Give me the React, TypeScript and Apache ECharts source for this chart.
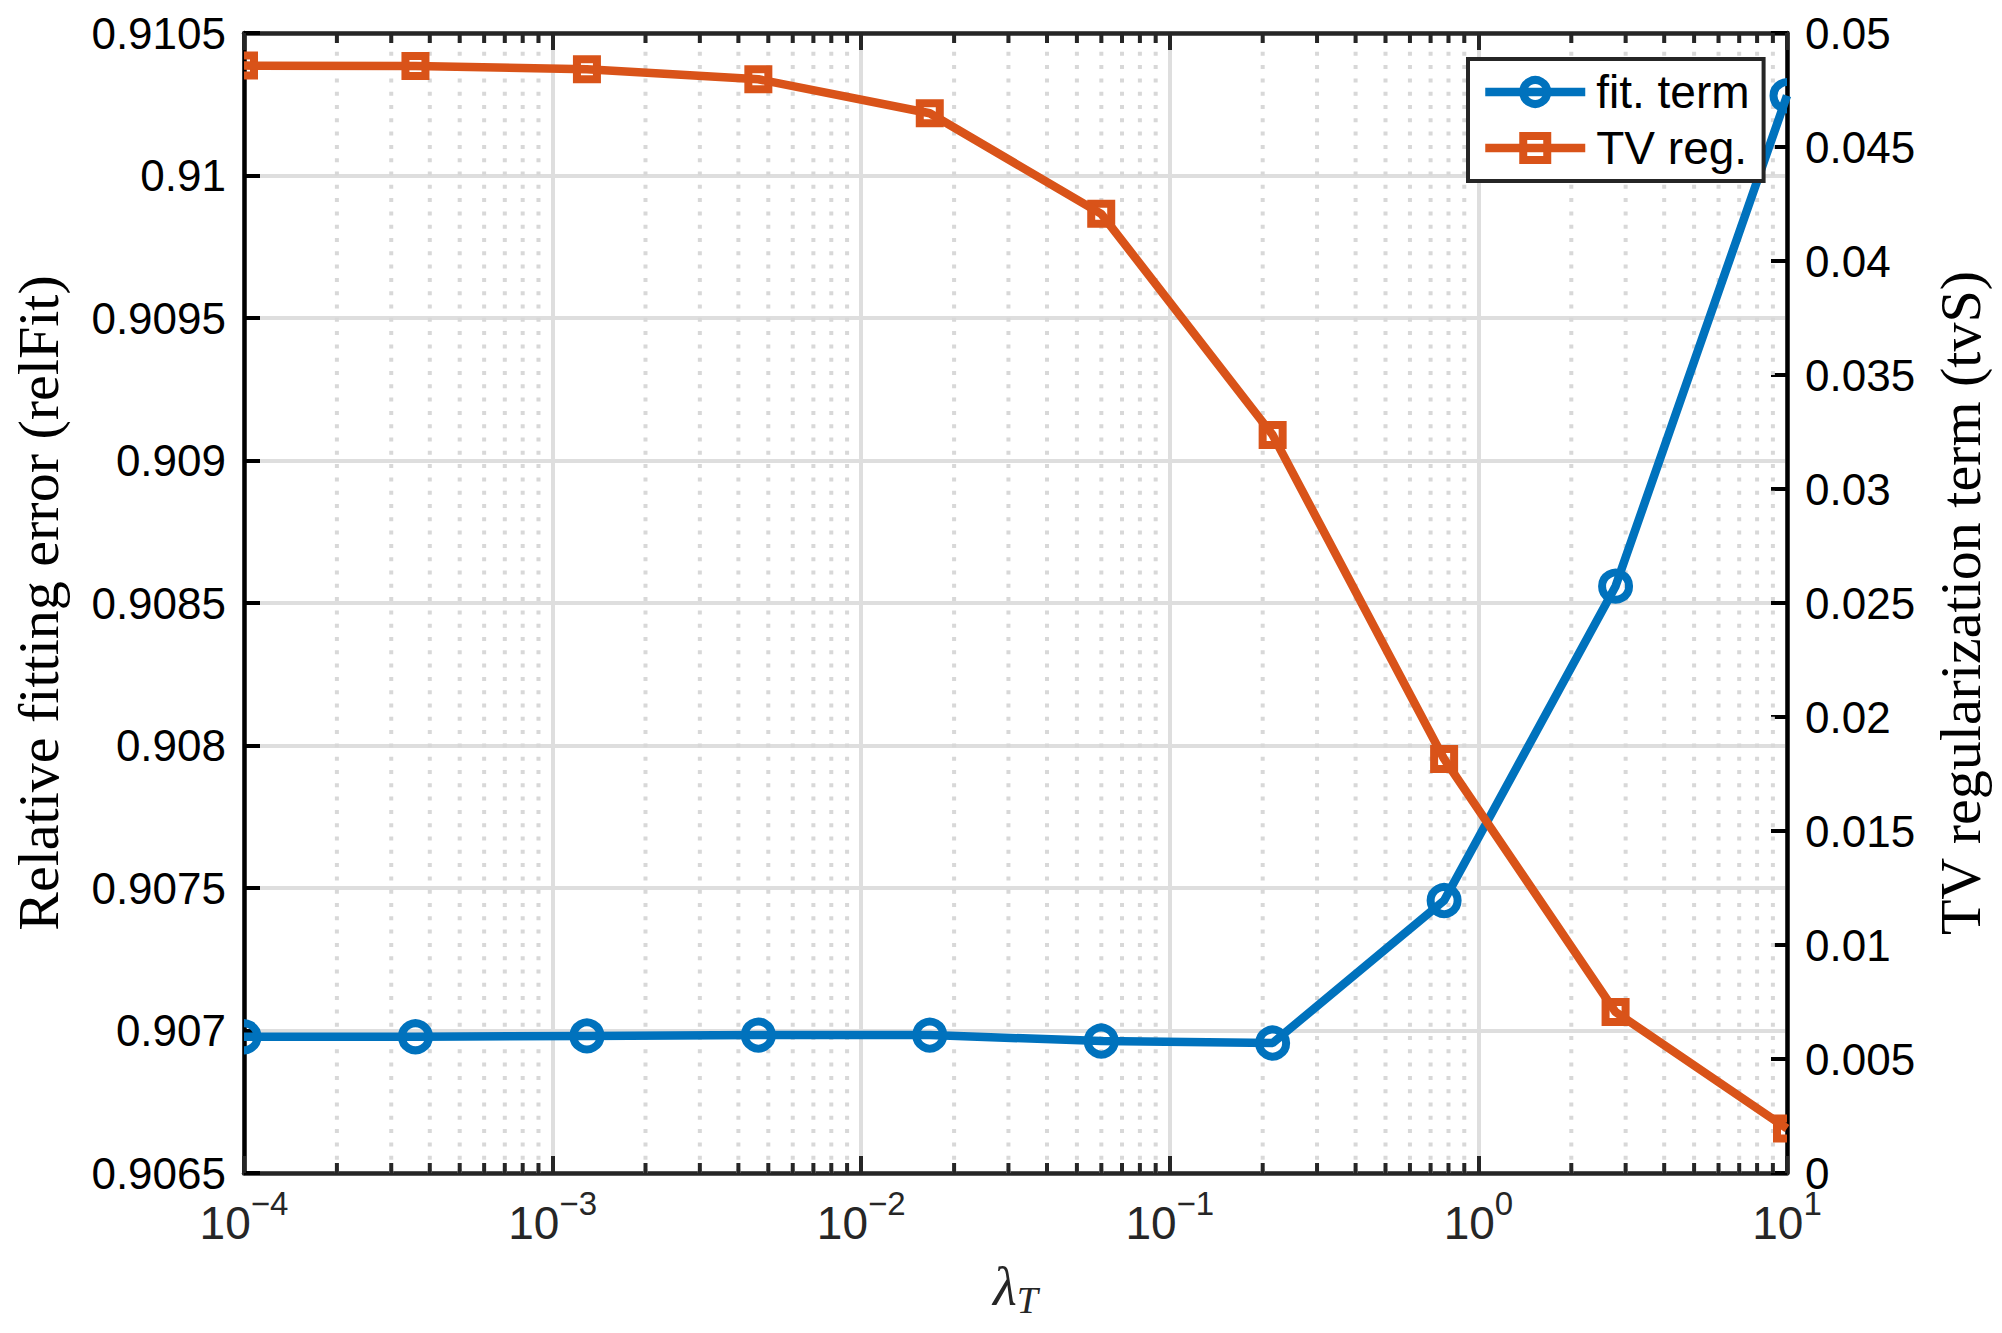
import React, { useEffect, useRef } from "react";
import * as echarts from "echarts";

// ---- data ----
const lambdaT = [1e-4, 3.594e-4, 1.292e-3, 4.642e-3, 1.668e-2, 5.995e-2, 0.2154, 0.7743, 2.783, 10];
const relFit = [0.906978, 0.906978, 0.906981, 0.906984, 0.906984, 0.906963, 0.906956, 0.907456, 0.908559, 0.91028];
const tvS = [0.04857, 0.04855, 0.04841, 0.04797, 0.04648, 0.04207, 0.03237, 0.01816, 0.00706, 0.00195];

// axis ranges / ticks
const xRange = [1e-4, 10];
const relFitRange = [0.9065, 0.9105];
const relFitStep = 0.0005;
const tvRange = [0, 0.05];
const tvStep = 0.005;
const xMinorTicks = [
  2e-4, 3e-4, 4e-4, 5e-4, 6e-4, 7e-4, 8e-4, 9e-4,
  2e-3, 3e-3, 4e-3, 5e-3, 6e-3, 7e-3, 8e-3, 9e-3,
  2e-2, 3e-2, 4e-2, 5e-2, 6e-2, 7e-2, 8e-2, 9e-2,
  2e-1, 3e-1, 4e-1, 5e-1, 6e-1, 7e-1, 8e-1, 9e-1,
  2, 3, 4, 5, 6, 7, 8, 9,
];

const seriesNames = ["fit. term", "TV reg."];
const xTitle = "λ";
const xTitleSub = "T";
const yLeftTitle = "Relative fitting error (relFit)";
const yRightTitle = "TV regularization term (tvS)";

const BLUE = "#0072BD";
const ORANGE = "#D95319";
const AX = "#262626";
const SANS = "'Liberation Sans', Arial, Helvetica, sans-serif";
const SERIF = "'Liberation Serif', 'Times New Roman', serif";

export default function App() {
  const ref = useRef<HTMLDivElement>(null);

  useEffect(() => {
    if (!ref.current) return;
    const chart = echarts.init(ref.current, null, { renderer: "svg" });

    const fitData = lambdaT.map((x, i) => [x, relFit[i]]);
    const tvData = lambdaT.map((x, i) => [x, tvS[i]]);
    const minorData = xMinorTicks.map((x) => [x, relFitRange[0]]);

    const option: any = {
      animation: false,
      backgroundColor: "#ffffff",
      grid: {
        left: 244,
        top: 33,
        width: 1543,
        height: 1140,
        containLabel: false,
        outerBoundsMode: "none",
      },
      legend: {
        data: seriesNames,
        orient: "vertical",
        left: 1468,
        top: 59,
        padding: [10, 14, 10, 13],
        itemGap: 10,
        itemWidth: 100,
        itemHeight: 30,
        backgroundColor: "#ffffff",
        borderColor: AX,
        borderWidth: 4,
        borderRadius: 0,
        selectedMode: false,
        textStyle: {
          fontFamily: SANS,
          fontSize: 46,
          color: "#000",
          lineHeight: 46,
          padding: [0, 0, 0, 6],
        },
        itemStyle: { borderWidth: 8 },
        lineStyle: { width: 8.5 },
      },
      xAxis: [
        {
          type: "log",
          logBase: 10,
          min: xRange[0],
          max: xRange[1],
          position: "bottom",
          name: `{l|${xTitle}}{t|${xTitleSub}}`,
          nameLocation: "middle",
          nameGap: 86,
          nameTextStyle: {
            color: AX,
            rich: {
              l: { fontFamily: SERIF, fontStyle: "italic", fontSize: 55, lineHeight: 55, color: AX },
              t: { fontFamily: SERIF, fontStyle: "italic", fontSize: 38, lineHeight: 38, color: AX, padding: [26, 0, 0, 0] },
            },
          },
          axisLine: { show: true, onZero: false, lineStyle: { color: AX, width: 4.5 } },
          axisTick: { show: true, inside: true, length: 17, lineStyle: { color: AX, width: 4 } },
          axisLabel: {
            show: true,
            margin: 27,
            color: AX,
            formatter: (v: number) => {
              const e = Math.round(Math.log10(v));
              return `{b|10}{s|${e < 0 ? "\u2212" : ""}${Math.abs(e)}}`;
            },
            rich: {
              b: { fontFamily: SANS, fontSize: 46, lineHeight: 46, color: AX, verticalAlign: "bottom" },
              s: { fontFamily: SANS, fontSize: 33, lineHeight: 33, color: AX, verticalAlign: "bottom", padding: [0, 0, 26, 0] },
            },
          },
          splitLine: { show: true, lineStyle: { color: "#dedede", width: 4 } },
          minorTick: { show: false },
          minorSplitLine: { show: false },
        },
        {
          type: "log",
          logBase: 10,
          min: xRange[0],
          max: xRange[1],
          position: "top",
          axisLine: { show: true, onZero: false, lineStyle: { color: AX, width: 4.5 } },
          axisTick: { show: true, inside: true, length: 17, lineStyle: { color: AX, width: 4 } },
          axisLabel: { show: false },
          splitLine: { show: false },
        },
      ],
      yAxis: [
        {
          type: "value",
          position: "left",
          min: relFitRange[0],
          max: relFitRange[1],
          interval: relFitStep,
          name: yLeftTitle,
          nameLocation: "middle",
          nameRotate: 90,
          nameGap: 177,
          nameTextStyle: { fontFamily: SERIF, fontSize: 58, color: "#000" },
          axisLine: { show: true, onZero: false, lineStyle: { color: "#000", width: 4.5 } },
          axisTick: { show: true, inside: true, length: 16, lineStyle: { color: "#000", width: 4 } },
          axisLabel: {
            margin: 18,
            fontFamily: SANS,
            fontSize: 44,
            lineHeight: 38,
            color: "#000",
            formatter: (v: number) => String(Number(v.toFixed(4))),
          },
          splitLine: { show: true, lineStyle: { color: "#dedede", width: 4 } },
        },
        {
          type: "value",
          position: "right",
          min: tvRange[0],
          max: tvRange[1],
          interval: tvStep,
          name: yRightTitle,
          nameLocation: "middle",
          nameRotate: 90,
          nameGap: 144,
          nameTextStyle: { fontFamily: SERIF, fontSize: 58, color: "#000" },
          axisLine: { show: true, onZero: false, lineStyle: { color: "#000", width: 4.5 } },
          axisTick: { show: true, inside: true, length: 16, lineStyle: { color: "#000", width: 4 } },
          axisLabel: {
            margin: 18,
            fontFamily: SANS,
            fontSize: 44,
            lineHeight: 38,
            color: "#000",
            formatter: (v: number) => String(Number(v.toFixed(3))),
          },
          splitLine: { show: false },
        },
      ],
      series: [
        {
          name: "minor",
          type: "custom",
          xAxisIndex: 0,
          yAxisIndex: 0,
          silent: true,
          z: 1,
          data: minorData,
          encode: { x: 0, y: 1 },
          renderItem: (params: any, api: any) => {
            const v = api.value(0);
            const pb = api.coord([v, relFitRange[0]]);
            const pt = api.coord([v, relFitRange[1]]);
            const x = pb[0];
            return {
              type: "group",
              children: [
                {
                  type: "line",
                  shape: { x1: x, y1: pb[1], x2: x, y2: pt[1] },
                  style: { stroke: "#d8d8d8", lineWidth: 4, lineDash: [4, 9.3] },
                },
                {
                  type: "line",
                  shape: { x1: x, y1: pb[1], x2: x, y2: pb[1] - 10 },
                  style: { stroke: AX, lineWidth: 4 },
                },
                {
                  type: "line",
                  shape: { x1: x, y1: pt[1], x2: x, y2: pt[1] + 10 },
                  style: { stroke: AX, lineWidth: 4 },
                },
              ],
            };
          },
        },
        {
          name: seriesNames[0],
          type: "line",
          xAxisIndex: 0,
          yAxisIndex: 0,
          data: fitData,
          color: BLUE,
          symbol: "circle",
          symbolSize: 27,
          showSymbol: false,
          silent: true,
          z: 3,
          lineStyle: { color: BLUE, width: 8.5 },
          itemStyle: { color: "transparent", borderColor: BLUE, borderWidth: 8 },
        },
        {
          name: seriesNames[1],
          type: "line",
          xAxisIndex: 0,
          yAxisIndex: 1,
          data: tvData,
          color: ORANGE,
          symbol: "rect",
          symbolSize: 20,
          showSymbol: false,
          silent: true,
          z: 4,
          lineStyle: { color: ORANGE, width: 8.5 },
          itemStyle: { color: "transparent", borderColor: ORANGE, borderWidth: 8 },
        },
        {
          name: "fitMarkers",
          type: "custom",
          xAxisIndex: 0,
          yAxisIndex: 0,
          silent: true,
          clip: true,
          z: 3,
          data: fitData,
          encode: { x: 0, y: 1 },
          renderItem: (params: any, api: any) => {
            const p = api.coord([api.value(0), api.value(1)]);
            return {
              type: "circle",
              shape: { cx: p[0], cy: p[1], r: 13.5 },
              style: { fill: "none", stroke: BLUE, lineWidth: 8 },
            };
          },
        },
        {
          name: "tvMarkers",
          type: "custom",
          xAxisIndex: 0,
          yAxisIndex: 1,
          silent: true,
          clip: true,
          z: 4,
          data: tvData,
          encode: { x: 0, y: 1 },
          renderItem: (params: any, api: any) => {
            const p = api.coord([api.value(0), api.value(1)]);
            return {
              type: "rect",
              shape: { x: p[0] - 10, y: p[1] - 10, width: 20, height: 20 },
              style: { fill: "none", stroke: ORANGE, lineWidth: 8 },
            };
          },
        },
      ],
    };

    chart.setOption(option);
    return () => chart.dispose();
  }, []);

  return (
    <div
      ref={ref}
      style={{ position: "absolute", left: 0, top: 0, width: 2002, height: 1333, background: "#fff" }}
    />
  );
}
